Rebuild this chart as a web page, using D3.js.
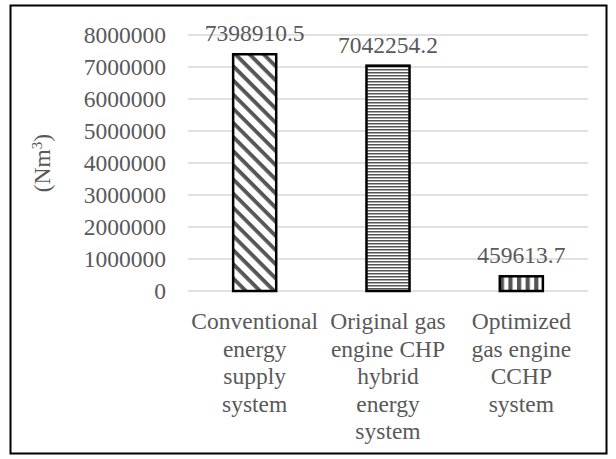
<!DOCTYPE html>
<html>
<head>
<meta charset="utf-8">
<script src="https://cdn.jsdelivr.net/npm/d3@7"></script>
<style>
  body { margin: 0; background: #fff; }
  text { font-family: "Liberation Serif", "Times New Roman", serif; fill: #595959; }
</style>
</head>
<body>
<div id="chart"></div>
<script>
// data
var categories = [
    "Conventional energy supply system",
    "Original gas engine CHP hybrid energy system",
    "Optimized gas engine CCHP system"
];
var categoryLines = [
    ["Conventional", "energy", "supply", "system"],
    ["Original gas", "engine CHP", "hybrid", "energy", "system"],
    ["Optimized", "gas engine", "CCHP", "system"]
];
var values = [7398910.5, 7042254.2, 459613.7];
var valueLabels = ["7398910.5", "7042254.2", "459613.7"];
var patterns = ["diag", "horiz", "vert"];
var yTicks = [0, 1000000, 2000000, 3000000, 4000000, 5000000, 6000000, 7000000, 8000000];

var width = 616, height = 459;
var fontSize = 23.5;

var svg = d3.select("#chart").append("svg")
        .attr("width", width)
        .attr("height", height);

// hatch fills
var defs = svg.append("defs");

var pDiag = defs.append("pattern")
        .attr("id", "diag")
        .attr("patternUnits", "userSpaceOnUse")
        .attr("width", 10).attr("height", 10)
        .attr("patternTransform", "rotate(45)");
pDiag.append("rect").attr("width", 10).attr("height", 10).attr("fill", "#fff");
pDiag.append("rect").attr("width", 10).attr("height", 3.8).attr("fill", "#555");

var pHoriz = defs.append("pattern")
        .attr("id", "horiz")
        .attr("patternUnits", "userSpaceOnUse")
        .attr("width", 4).attr("height", 3);
pHoriz.append("rect").attr("width", 4).attr("height", 3).attr("fill", "#fff");
pHoriz.append("rect").attr("width", 4).attr("height", 1.5).attr("fill", "#555");

var pVert = defs.append("pattern")
        .attr("id", "vert")
        .attr("patternUnits", "userSpaceOnUse")
        .attr("width", 8.6).attr("height", 4)
        .attr("x", 1);
pVert.append("rect").attr("width", 8.6).attr("height", 4).attr("fill", "#fff");
pVert.append("rect").attr("width", 4.2).attr("height", 4).attr("fill", "#555");

// outer frame
svg.append("rect")
        .attr("x", 10.5).attr("y", 5.5)
        .attr("width", 596).attr("height", 448)
        .attr("fill", "none")
        .attr("stroke", "#000")
        .attr("stroke-width", 2);

var x = d3.scaleBand()
        .domain(categories)
        .range([188, 588])
        .paddingInner(0.677)
        .paddingOuter(0.677 / 2);

var y = d3.scaleLinear()
        .domain([0, 8000000])
        .range([291, 35]);

// gridlines
svg.append("g")
        .selectAll("line")
        .data(yTicks)
        .enter().append("line")
        .attr("x1", 188).attr("x2", 588)
        .attr("y1", function (d) { return y(d); })
        .attr("y2", function (d) { return y(d); })
        .attr("stroke", "#d9d9d9")
        .attr("stroke-width", 1.5);

// y axis labels
var yAxis = d3.axisLeft(y).tickValues(yTicks).tickSize(0).tickPadding(22)
        .tickFormat(function (d) { return d3.format("d")(d); });
var gy = svg.append("g").attr("transform", "translate(188,0)").call(yAxis);
gy.select(".domain").remove();
gy.selectAll("text")
        .attr("font-size", fontSize)
        .attr("font-family", null)
        .attr("fill", "#595959");

// axis title
svg.append("text")
        .attr("transform", "translate(50," + y(4000000) + ") rotate(-90)")
        .attr("text-anchor", "middle")
        .attr("font-size", fontSize)
        .html('(Nm<tspan dy="-8" font-size="15">3</tspan><tspan dy="8">)</tspan>');

// bars
svg.append("g")
        .selectAll("rect")
        .data(values)
        .enter().append("rect")
        .attr("x", function (d, i) { return x(categories[i]); })
        .attr("y", function (d) { return y(d); })
        .attr("width", x.bandwidth())
        .attr("height", function (d) { return y(0) - y(d); })
        .attr("fill", function (d, i) { return "url(#" + patterns[i] + ")"; })
        .attr("stroke", "#000")
        .attr("stroke-width", 2.5);

// value labels
svg.append("g")
        .selectAll("text")
        .data(values)
        .enter().append("text")
        .attr("x", function (d, i) { return x(categories[i]) + x.bandwidth() / 2; })
        .attr("y", function (d) { return Math.max(y(d) - 13, 40); })
        .attr("text-anchor", "middle")
        .attr("font-size", fontSize)
        .text(function (d, i) { return valueLabels[i]; });

// category labels (wrapped)
var cat = svg.append("g")
        .selectAll("text")
        .data(categories)
        .enter().append("text")
        .attr("text-anchor", "middle")
        .attr("font-size", fontSize)
        .attr("transform", function (d) {
            return "translate(" + (x(d) + x.bandwidth() / 2) + ",329)";
        });
cat.each(function (d, i) {
    var t = d3.select(this);
    categoryLines[i].forEach(function (line, j) {
        t.append("tspan").attr("x", 0).attr("y", j * 27.5).text(line);
    });
});
</script>
</body>
</html>
